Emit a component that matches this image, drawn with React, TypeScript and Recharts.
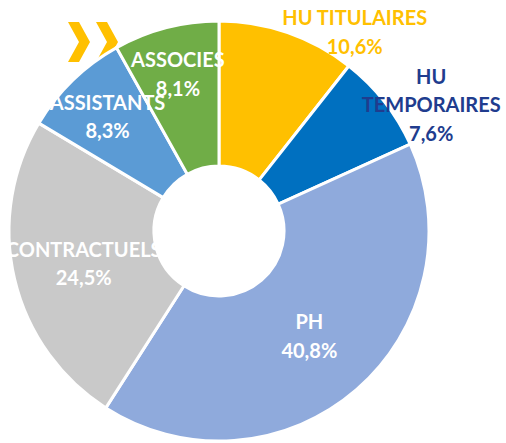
import React from 'react';
import { PieChart, Pie, Cell } from 'recharts';

const categories = ['HU TITULAIRES', 'HU TEMPORAIRES', 'PH', 'CONTRACTUELS', 'ASSISTANTS', 'ASSOCIES'];
const shares = [10.6, 7.6, 40.8, 24.5, 8.3, 8.1];
const shareLabels = ['10,6%', '7,6%', '40,8%', '24,5%', '8,3%', '8,1%'];
const nameLines = [['HU TITULAIRES'], ['HU', 'TEMPORAIRES'], ['PH'], ['CONTRACTUELS'], ['ASSISTANTS'], ['ASSOCIES']];
const colors = ['#FFC000', '#0070C0', '#8FAADC', '#C9C9C9', '#5B9BD5', '#70AD47'];

const data = categories.map((name, i) => ({ name, value: shares[i] }));

// label layout: radius from centre along mid angle, plus nudge; colour
const LABEL_LAYOUT: Record<string, { r: number; dx: number; dy: number; color: string }> = {
  'HU TITULAIRES': { r: 210, dx: 67, dy: -1, color: '#FFC000' },
  'HU TEMPORAIRES': { r: 210, dx: 47, dy: 3, color: '#203C8E' },
  PH: { r: 138, dx: 0, dy: 0, color: '#FFFFFF' },
  CONTRACTUELS: { r: 139, dx: 0, dy: 0, color: '#FFFFFF' },
  ASSISTANTS: { r: 160, dx: 0, dy: 0, color: '#FFFFFF' },
  ASSOCIES: { r: 163, dx: 0, dy: 0, color: '#FFFFFF' },
};

const RAD = Math.PI / 180;
const LINE_H = 28.5;
const FONT = 'Lato, "DejaVu Sans", sans-serif';

const renderLabel = (props: any) => {
  const { cx, cy, midAngle, index } = props;
  const name = categories[index];
  const lay = LABEL_LAYOUT[name];
  const x = cx + lay.r * Math.cos(-midAngle * RAD) + lay.dx;
  const y = cy + lay.r * Math.sin(-midAngle * RAD) + lay.dy;
  const lines = [...nameLines[index], shareLabels[index]];
  const y0 = y - ((lines.length - 1) * LINE_H) / 2;
  return (
    <text
      key={`lbl-${index}`}
      x={x}
      y={y0}
      fill={lay.color}
      textAnchor="middle"
      dominantBaseline="central"
      fontFamily={FONT}
      fontWeight={700}
      fontSize={20}
    >
      {lines.map((ln, k) => (
        <tspan key={k} x={x} y={y0 + k * LINE_H}>
          {ln}
        </tspan>
      ))}
    </text>
  );
};

export default function App() {
  return (
    <div style={{ position: 'absolute', left: 0, top: 0, width: 506, height: 443, background: '#fff' }}>
      <svg width={506} height={443} style={{ position: 'absolute', left: 0, top: 0 }}>
        <polygon points="68,22 79,22 90,42 79,62 68,62 79,42" fill="#FFC000" />
        <polygon points="96,22 107,22 118,42 107,62 96,62 107,42" fill="#FFC000" />
      </svg>
      <div style={{ position: 'absolute', left: 0, top: 0 }}>
        <PieChart width={506} height={443} margin={{ top: 0, right: 0, bottom: 0, left: 0 }}>
          <Pie
            data={data}
            dataKey="value"
            nameKey="name"
            cx={219}
            cy={231}
            innerRadius={65}
            outerRadius={210}
            startAngle={90}
            endAngle={-270}
            stroke="#FFFFFF"
            strokeWidth={3}
            label={renderLabel}
            labelLine={false}
            isAnimationActive={false}
          >
            {data.map((d, i) => (
              <Cell key={d.name} fill={colors[i]} />
            ))}
          </Pie>
        </PieChart>
      </div>
    </div>
  );
}
